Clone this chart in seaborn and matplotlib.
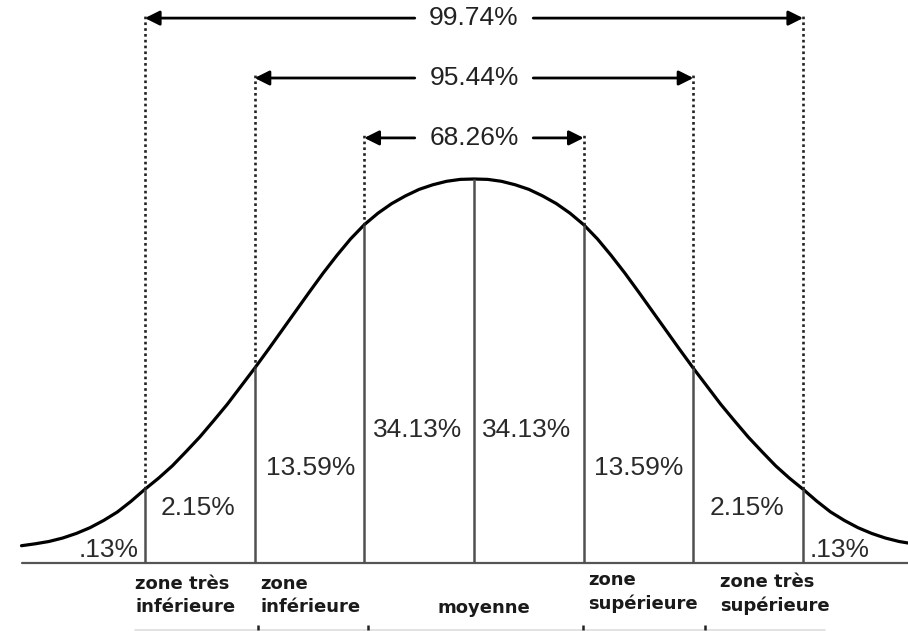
import numpy as np
import pandas as pd
import matplotlib.pyplot as plt
import seaborn as sns

# demi-courbe en cloche (x en sigma depuis la moyenne, hauteur relative au sommet)
half_z = [0.0, 0.125, 0.25, 0.375, 0.5, 0.625, 0.75, 0.875, 1.0, 1.125, 1.25, 1.375,
          1.5, 1.625, 1.75, 1.875, 2.0, 2.125, 2.25, 2.375, 2.5, 2.625, 2.75, 2.875,
          3.0, 3.125, 3.25, 3.375, 3.5, 3.625, 3.75, 3.875, 4.0, 4.125]
half_h = [1.000, 0.999, 0.994, 0.985, 0.973, 0.956, 0.936, 0.911, 0.881, 0.844, 0.801, 0.755,
          0.706, 0.656, 0.606, 0.556, 0.507, 0.460, 0.413, 0.370, 0.328, 0.290, 0.253, 0.221,
          0.192, 0.161, 0.133, 0.111, 0.092, 0.077, 0.065, 0.056, 0.050, 0.045]

# lignes des écarts-types
sigma_pos = [-3, -2, -1, 0, 1, 2, 3]
sigma_h = [0.192, 0.507, 0.881, 1.0, 0.881, 0.507, 0.192]

# pourcentages par zone
zone_pct = [".13%", "2.15%", "13.59%", "34.13%", "34.13%", "13.59%", "2.15%", ".13%"]
zone_x = [-3.06, -2.52, -1.49, -0.51, 0.48, 1.50, 2.49, 3.06]
zone_y = [0.034, 0.143, 0.247, 0.346, 0.346, 0.247, 0.143, 0.034]

# intervalles
interval_labels = ["99.74%", "95.44%", "68.26%"]
interval_sigma = [3, 2, 1]
interval_y = [1.419, 1.263, 1.107]

# libellés du bas
bottom_labels = ["zone très\ninférieure", "zone\ninférieure", "moyenne",
                 "zone\nsupérieure", "zone très\nsupérieure"]
bottom_x = [-3.09, -1.95, -0.33, 1.04, 2.24]
bottom_y = [-0.085, -0.085, -0.117, -0.076, -0.081]

curve_z = [-z for z in half_z[::-1]] + half_z[1:]
curve_h = half_h[::-1] + half_h[1:]
df = pd.DataFrame({"z": curve_z, "h": curve_h})

sns.set_theme(style="white")
plt.rcParams['font.family'] = ['Liberation Sans', 'DejaVu Sans']

fig = plt.figure(figsize=(9.08, 6.31), dpi=100)
ax = fig.add_axes([0, 0, 1, 1])

# pixels -> unités : sigma = 109.7 px, centre x = 474, base y = 563, sommet y = 179
ax.set_xlim(-474 / 109.7, (908 - 474) / 109.7)
ax.set_ylim(-(631 - 563) / 384, 563 / 384)
ax.axis("off")

sns.lineplot(data=df, x="z", y="h", color="black", linewidth=2.3, ax=ax, sort=False)

# ligne de base
ax.plot([-4.12, 4.0], [0, 0], color="#555555", linewidth=1.6)

# lignes verticales pleines
ax.vlines(sigma_pos, 0, sigma_h, color="#505050", linewidth=1.8)

# pointillés et flèches
for lab, s, y in zip(interval_labels, interval_sigma, interval_y):
    for sign in (-1, 1):
        hs = sigma_h[sigma_pos.index(sign * s)]
        ax.plot([sign * s, sign * s], [hs, y + 0.012], color="#222222",
                linewidth=1.9, linestyle=(0, (1, 1.2)))
        ax.annotate("", xy=(sign * s, y), xytext=(sign * 0.54, y),
                    arrowprops=dict(arrowstyle="-|>", color="black", lw=2,
                                    mutation_scale=22, shrinkA=0, shrinkB=0))
    ax.text(0, y, lab, ha="center", va="center", fontsize=19, color="#222222")

# pourcentages des zones
for lab, x, y in zip(zone_pct, zone_x, zone_y):
    ha = "center"
    if lab == ".13%":
        ha = "right" if x < 0 else "left"
    ax.text(x, y, lab, ha=ha, va="center", fontsize=19, color="#2a2a2a")

# libellés du bas
for lab, x, y in zip(bottom_labels, bottom_x, bottom_y):
    ax.text(x, y, lab, ha="left", va="center", fontsize=13, fontweight="bold",
            color="#1a1a1a", family=["DejaVu Sans"], linespacing=1.35)

# trait du bas avec petites marques
ax.plot([(135 - 474) / 109.7, (825 - 474) / 109.7], [-67 / 384, -67 / 384],
        color="#dddddd", linewidth=1.2)
ax.vlines([(258 - 474) / 109.7, (368 - 474) / 109.7, (583 - 474) / 109.7, (705 - 474) / 109.7],
          -67 / 384, -62 / 384, color="#222222", linewidth=1.8)

plt.savefig("out.png", dpi=100)
